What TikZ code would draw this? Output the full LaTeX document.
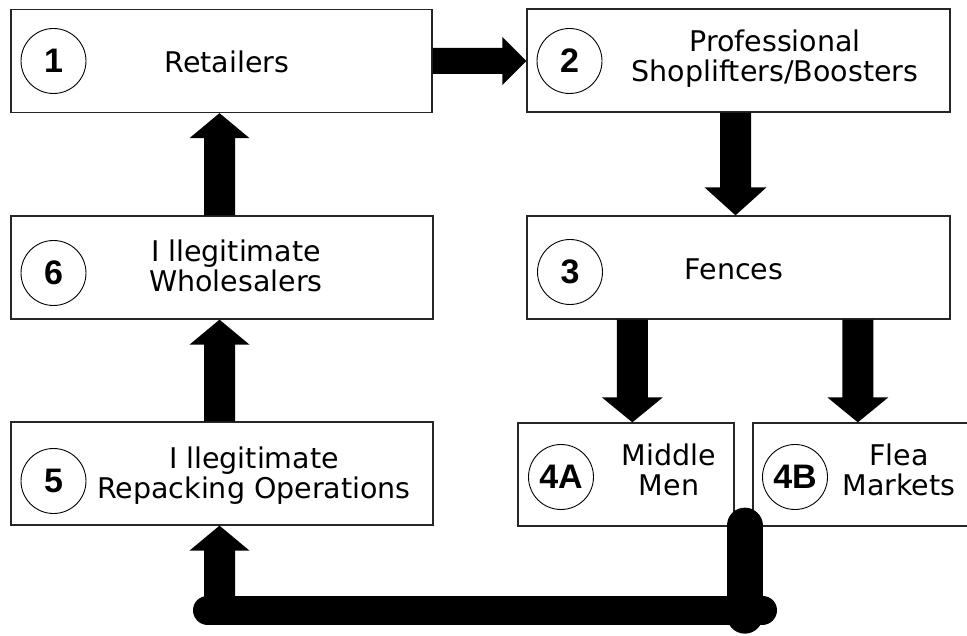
\documentclass[tikz,border=0pt]{standalone}
\usepackage{fontspec}
\setmainfont{DejaVu Sans}
\newfontfamily\numfont{Liberation Sans}
\usetikzlibrary{calc}
% fat block arrow: start, end, shaft half-width, head half-width, head length
\newcommand\fatarrow[5]{%
  \path ($(#2)!#5!(#1)$) coordinate (fa-h);
  \fill ($(#1)!#3!90:(#2)$) -- ($(fa-h)!#3!90:(#2)$) -- ($(fa-h)!#4!90:(#2)$) -- (#2)
     -- ($(fa-h)!#4!-90:(#2)$) -- ($(fa-h)!#3!-90:(#2)$) -- ($(#1)!#3!-90:(#2)$) -- cycle;}
\begin{document}
\begin{tikzpicture}[x=1pt,y=-1pt,
  box/.style={draw=black!85, line width=1.3pt, rectangle, minimum height=103pt, inner sep=0pt},
  num/.style={draw, circle, line width=0.9pt, minimum size=65pt, inner sep=0pt,
    font=\numfont\bfseries\fontsize{34}{34}\selectfont},
  lbl/.style={font=\fontsize{28.5}{30}\selectfont, align=center, inner sep=0pt, anchor=base}]
\clip (0,0) rectangle (967,636);
\fill[white] (0,0) rectangle (967,636);
% boxes
\node[box, minimum width=421pt] (b1) at (221.5,61) {};
\node[box, minimum width=423pt] (b2) at (738.5,60.5) {};
\node[box, minimum width=423pt] (b3) at (738.5,267.5) {};
\node[box, minimum width=422pt] (b6) at (222,267.5) {};
\node[box, minimum width=422pt] (b5) at (222,473.5) {};
\node[box, minimum width=216pt] (b4a) at (626,474.5) {};
\node[box, minimum width=250pt] (b4b) at (878,474.5) {};
% number circles
\node[num] (c1) at (53.5,61) {1};
\node[num] (c2) at (569.5,61) {2};
\node[num] (c3) at (570,272) {3};
\node[num] (c6) at (53.5,273) {6};
\node[num] (c5) at (53.5,481) {5};
\node[num] (c4a) at (561,477) {4A};
\node[num] (c4b) at (795,477) {4B};
% labels (base = baseline of last line)
\node[lbl] (t1) at (227,73) {Retailers};
\node[lbl] (t2) at (775,82) {Professional\\Shoplifters/Boosters};
\node[lbl] (t3) at (734,280) {Fences};
\node[lbl] (t6) at (236,292) {I llegitimate\\Wholesalers};
\node[lbl] (t5) at (254,498) {I llegitimate\\Repacking Operations};
\node[lbl] (t4a) at (669,495) {Middle\\Men};
\node[lbl] (t4b) at (899,495) {Flea\\Markets};
% arrow end points
\coordinate (s12) at (b1.east);
\coordinate (e12) at (b1.east -| b2.west);
\coordinate (s61) at ($(b6.north)+(-2.5,0)$);
\coordinate (e61) at (s61 |- b1.south);
\coordinate (s56) at ($(b5.north)+(-2.5,0)$);
\coordinate (e56) at (s56 |- b6.south);
\coordinate (s23) at ($(b2.south)+(-3,0)$);
\coordinate (e23) at (s23 |- b3.north);
\coordinate (s34a) at ($(b3.south west)+(106,0)$);
\coordinate (e34a) at (s34a |- b4a.north);
\coordinate (s34b) at ($(b3.south west)+(331.5,0)$);
\coordinate (e34b) at (s34b |- b4b.north);
% block arrows
\fatarrow{s12}{e12}{13pt}{24pt}{24pt}
\fatarrow{s61}{e61}{15.5pt}{30pt}{25pt}
\fatarrow{s56}{e56}{15.5pt}{30pt}{25pt}
\fatarrow{s23}{e23}{15.5pt}{31pt}{28pt}
\fatarrow{s34a}{e34a}{15.5pt}{30.5pt}{25pt}
\fatarrow{s34b}{e34b}{15.5pt}{30.5pt}{25pt}
% return path from 4A/4B to 5
\coordinate (v1) at ($(b4a.south east)+(10,-1)$);
\coordinate (v2) at ($(v1)+(0,90)$);
\coordinate (h1) at (207.5,610);
\coordinate (h2) at (762.5,610);
\coordinate (s5) at (219.5,610);
\coordinate (e5) at (s5 |- b5.south);
\draw[line width=36pt, line cap=round] (v1) -- (v2);
\draw[line width=29pt, line cap=round] (h1) -- (h2);
\fatarrow{s5}{e5}{15.5pt}{30pt}{25pt}
\end{tikzpicture}
\end{document}
